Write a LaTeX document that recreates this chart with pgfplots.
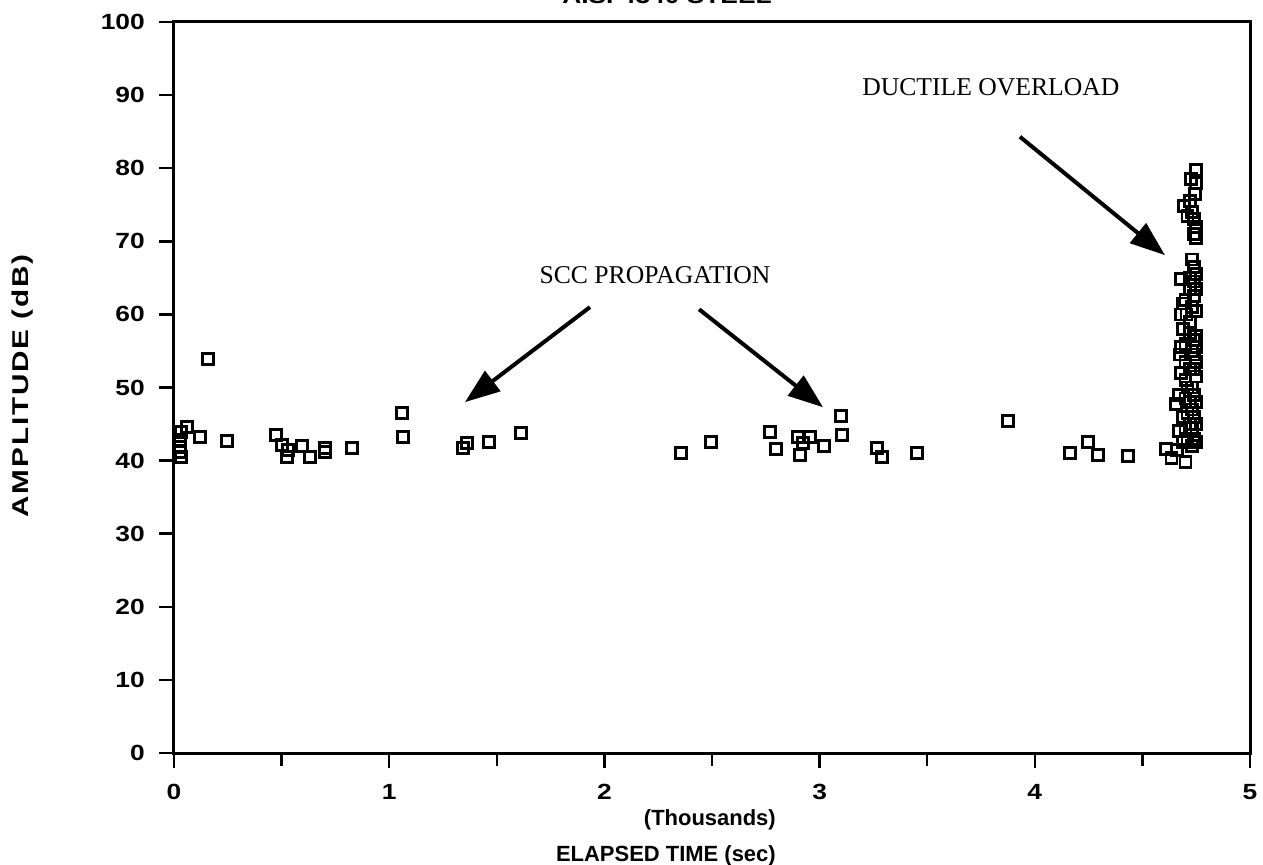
\documentclass[border=0pt]{standalone}
\usepackage{fontspec}
\setmainfont{Liberation Sans}
\newfontfamily\annfont{Liberation Serif}
\newfontfamily\widefont[FakeStretch=1.2]{Liberation Sans}
\newfontfamily\ylabfont[FakeStretch=1.3,LetterSpace=8]{Liberation Sans}
\usepackage{pgfplots}
\pgfplotsset{compat=1.18}
\usetikzlibrary{arrows.meta}
\begin{document}
\begin{tikzpicture}
\begin{axis}[
  at={(0,0)}, anchor=south west,
  scale only axis, width=21.52cm, height=14.62cm,
  xmin=0, xmax=5, ymin=0, ymax=100,
  xtick={0,1,2,3,4,5}, ytick={0,10,...,100},
  minor x tick num=1,
  tick pos=left, tick align=outside,
  major tick length=0.3cm, minor tick length=0.25cm,
  axis line style={line width=0.06cm},
  every tick/.style={line width=0.05cm, black},
  /pgf/number format/assume math mode=true,
  ticklabel style={font=\widefont\fontsize{12.5}{14}\selectfont\bfseries},
  xticklabel style={yshift=-0.2cm},
  yticklabel style={xshift=-0.16cm},
  clip=false,
]
\addplot[only marks, mark=square, mark size=0.11cm, mark options={line width=0.055cm, black}] coordinates {
(0.033,43.9) (0.028,42.8) (0.028,41.9) (0.028,41.2) (0.033,40.5)
(0.06,44.6) (0.121,43.2) (0.158,53.9) (0.246,42.7)
(0.474,43.5) (0.502,42.1) (0.530,41.5) (0.525,40.5) (0.595,42.0)
(0.632,40.5) (0.702,41.7) (0.702,41.2) (0.827,41.7)
(1.059,46.5) (1.064,43.2) (1.343,41.7) (1.362,42.4) (1.464,42.5) (1.612,43.8)
(2.356,41.0) (2.495,42.5) (2.770,43.9) (2.797,41.6) (2.900,43.2) (2.955,43.2)
(2.909,40.8) (2.923,42.4) (3.020,42.0) (3.099,46.1) (3.103,43.5)
(3.267,41.7) (3.290,40.5) (3.453,41.0) (3.875,45.4)
(4.164,41.0) (4.247,42.5) (4.294,40.8) (4.433,40.6)
(4.61,41.6) (4.635,40.4) (4.655,47.7) (4.66,41.5) (4.67,44.0) (4.67,49.0)
(4.675,54.5) (4.68,52.0) (4.68,55.5) (4.68,60.0) (4.68,64.8)
(4.69,42.5) (4.69,46.0) (4.69,58.0) (4.69,61.5) (4.695,74.8)
(4.70,39.8) (4.70,44.5) (4.70,48.5) (4.70,51.0) (4.70,53.5) (4.70,56.0) (4.70,62.0)
(4.705,60.0) (4.71,43.0) (4.71,46.5) (4.71,50.0) (4.71,73.5)
(4.72,45.0) (4.72,48.0) (4.72,52.5) (4.72,57.5) (4.72,59.0) (4.72,63.5) (4.72,65.0) (4.72,75.5)
(4.725,78.5)
(4.73,42.0) (4.73,44.5) (4.73,47.0) (4.73,50.0) (4.73,55.0) (4.73,61.0) (4.73,67.5) (4.73,74.0)
(4.74,43.0) (4.74,46.0) (4.74,49.0) (4.74,52.5) (4.74,54.5) (4.74,56.5) (4.74,62.5) (4.74,64.5)
(4.74,66.5) (4.74,71.0) (4.74,73.0) (4.745,76.5)
(4.75,42.5) (4.75,45.0) (4.75,48.0) (4.75,51.5) (4.75,53.5) (4.75,55.5) (4.75,57.0) (4.75,60.5)
(4.75,63.5) (4.75,65.5) (4.75,70.5) (4.75,72.0) (4.75,78.0) (4.75,79.8)
};
% annotations
\node[font=\annfont\fontsize{14.6}{16}\selectfont] at (axis cs:3.796,91.1) {DUCTILE OVERLOAD};
\node[font=\annfont\fontsize{14.6}{16}\selectfont] at (axis cs:2.235,65.4) {SCC PROPAGATION};
\draw[line width=0.08cm, -{Triangle[length=0.7cm,width=0.5cm]}] (axis cs:3.931,84.3) -- (axis cs:4.605,68.1);
\draw[line width=0.08cm, -{Triangle[length=0.7cm,width=0.5cm]}] (axis cs:1.933,61.0) -- (axis cs:1.352,48.0);
\draw[line width=0.08cm, -{Triangle[length=0.7cm,width=0.5cm]}] (axis cs:2.440,60.7) -- (axis cs:3.016,47.3);
% titles and labels
\node[anchor=base, font=\widefont\fontsize{12.5}{14}\selectfont\bfseries] at (axis cs:2.291,102.5) {AISI 4340 STEEL};
\node[anchor=base east, font=\fontsize{12.5}{14}\selectfont\bfseries] at (axis cs:2.825,-9.85) {(Thousands)};
\node[anchor=base east, font=\fontsize{12.5}{14}\selectfont\bfseries] at (axis cs:2.825,-14.8) {ELAPSED TIME (sec)};
\node[rotate=90, font=\ylabfont\fontsize{13}{15}\selectfont\bfseries] at (axis cs:-0.702,50.2) {AMPLITUDE (dB)};
\end{axis}
\pgfresetboundingbox
\useasboundingbox (-3.48cm,-2.22cm) rectangle (21.78cm,15.06cm);
\end{tikzpicture}
\end{document}
